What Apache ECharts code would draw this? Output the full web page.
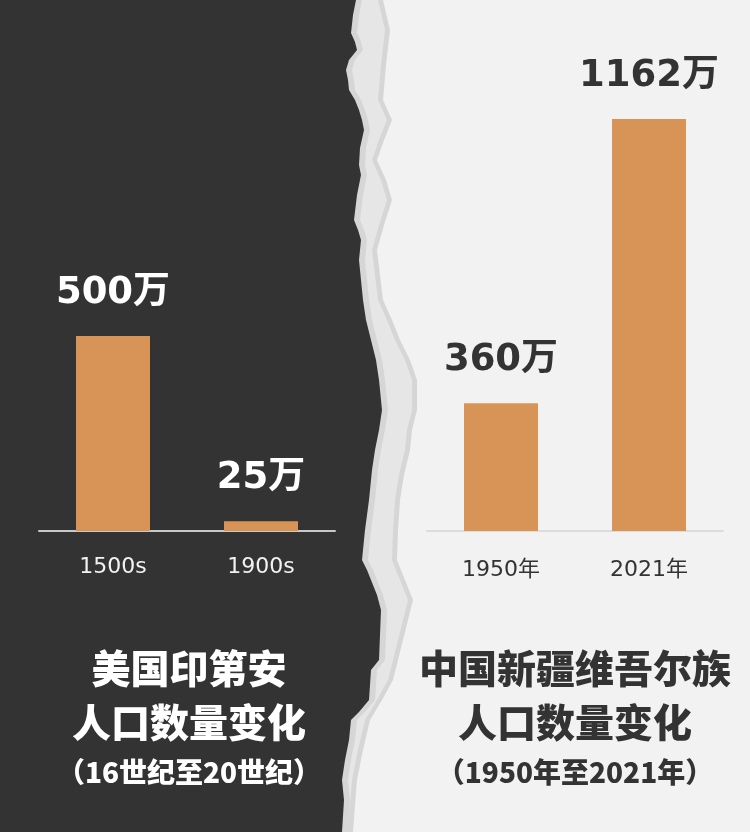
<!DOCTYPE html>
<html>
<head>
<meta charset="utf-8">
<script src="https://cdn.jsdelivr.net/npm/echarts@6/dist/echarts.min.js"></script>
<style>html,body{margin:0;padding:0;background:#f2f2f2}#c{width:750px;height:832px}</style>
</head>
<body>
<div id="c"></div>
<script>
// Data
const leftCategories = ['1500s', '1900s'];
const leftValues = [500, 25];
const rightCategories = ['1950年', '2021年'];
const rightValues = [360, 1162];
const unit = '万';

const leftTitle = ['美国印第安', '人口数量变化', '（16世纪至20世纪）'];
const rightTitle = ['中国新疆维吾尔族', '人口数量变化', '（1950年至2021年）'];

// Decorative torn edge (dark boundary and light boundary)
const edgeDark = [[357,0],[354,15],[352,33],[356,42],[358,50],[350,60],[347,70],[349,80],[350,90],[356,100],[360,110],[363,120],[365,130],[361,148],[360,165],[362,175],[358,195],[355,220],[359,230],[362,240],[360,260],[362,280],[364,300],[367,320],[372,340],[377,360],[380,380],[382,400],[383,410],[380,430],[376,450],[373,470],[370,500],[366,530],[363,560],[368,570],[372,580],[378,595],[382,610],[381,635],[380,660],[372,670],[371,685],[370,700],[360,712],[352,720],[350,740],[346,760],[343,780],[345,800],[343,832]];
const edgeLight = [[383,0],[390,30],[386,65],[383,100],[392,120],[384,140],[377,160],[386,180],[392,200],[384,225],[377,250],[380,275],[383,300],[392,320],[400,340],[410,360],[417,380],[417,410],[412,430],[410,450],[404,475],[400,500],[398,530],[397,560],[405,580],[413,600],[408,620],[403,640],[398,660],[393,680],[382,700],[370,720],[363,750],[357,780],[355,805],[353,832]];

const darkPoly = [[0,0]].concat(edgeDark).concat([[0,832]]);
const bandPoly = edgeDark.map(p => [p[0]-1, p[1]]).concat(edgeLight.slice().reverse());
const bandInner = edgeDark.map(p => [p[0]+5, p[1]]).concat(edgeLight.slice().reverse().map(p => [p[0]-5, p[1]]));

const chart = echarts.init(document.getElementById('c'));
const barColor = '#d89456';
const numFont = '"DejaVu Sans", "Noto Sans CJK SC", sans-serif';
const cjkTitle = '"Noto Sans CJK SC", sans-serif';

function titleTexts(lines, cx, color) {
  const ys = [668, 722, 772];
  const sizes = [39, 39, 28];
  return lines.map((t, i) => ({
    type: 'text', x: cx, y: ys[i], z: 10,
    style: { text: t, fill: color, font: '900 ' + sizes[i] + 'px ' + cjkTitle, textAlign: 'center', textVerticalAlign: 'middle' }
  }));
}

const option = {
  backgroundColor: '#f2f2f2',
  animation: false,
  graphic: [
    { type: 'polygon', z: -10, shape: { points: darkPoly }, style: { fill: '#333333' } },
    { type: 'polygon', z: -9, shape: { points: bandPoly }, style: { fill: '#d6d6d6' } },
    { type: 'polygon', z: -8, shape: { points: bandInner }, style: { fill: '#e6e6e6' } }
  ].concat(titleTexts(leftTitle, 189, '#ffffff')).concat(titleTexts(rightTitle, 575, '#333333')),
  grid: [
    { left: 39, width: 296, top: 297, bottom: 301 },
    { left: 427, width: 296, top: 70, bottom: 301 }
  ],
  xAxis: [
    { type: 'category', gridIndex: 0, data: leftCategories,
      axisLine: { lineStyle: { color: '#c8c8c8', width: 2 } }, axisTick: { show: false },
      axisLabel: { color: '#f2f2f2', fontSize: 22, margin: 25, fontFamily: '"DejaVu Sans", sans-serif' } },
    { type: 'category', gridIndex: 1, data: rightCategories,
      axisLine: { lineStyle: { color: '#dcdcdc', width: 2 } }, axisTick: { show: false },
      axisLabel: { color: '#333333', fontSize: 22, margin: 28, fontFamily: '"DejaVu Sans", "Noto Sans CJK SC", sans-serif' } }
  ],
  yAxis: [
    { type: 'value', gridIndex: 0, min: 0, max: 600, show: false, splitLine: { show: false } },
    { type: 'value', gridIndex: 1, min: 0, max: 1300, show: false, splitLine: { show: false } }
  ],
  series: [
    { type: 'bar', xAxisIndex: 0, yAxisIndex: 0, data: leftValues, barWidth: 74,
      itemStyle: { color: barColor },
      label: { show: true, position: 'top', distance: 24, color: '#ffffff', fontSize: 37, fontWeight: 'bold', fontFamily: numFont,
        formatter: p => p.value + unit } },
    { type: 'bar', xAxisIndex: 1, yAxisIndex: 1, data: rightValues, barWidth: 74,
      itemStyle: { color: barColor },
      label: { show: true, position: 'top', distance: 24, color: '#333333', fontSize: 37, fontWeight: 'bold', fontFamily: numFont,
        formatter: p => p.value + unit } }
  ]
};
chart.setOption(option);
</script>
</body>
</html>
